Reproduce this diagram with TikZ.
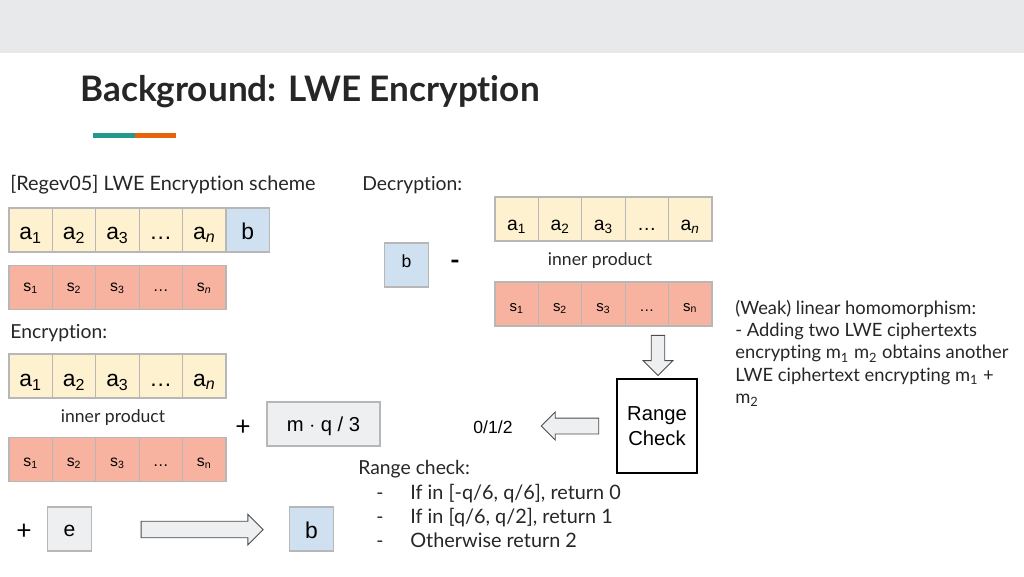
\documentclass[tikz,border=0pt]{standalone}
\usepackage{fontspec}
\setmainfont{Lato}[Ligatures=NoCommon]
\newfontfamily\arialfont{Liberation Sans}
\usetikzlibrary{shapes.arrows}
\definecolor{bandgray}{HTML}{E8E9EB}
\definecolor{cellborder}{HTML}{B7B7B7}
\definecolor{acolor}{HTML}{FDF1CF}
\definecolor{scolor}{HTML}{F8B3A0}
\definecolor{bcolor}{HTML}{CFE0F1}
\definecolor{ecolor}{HTML}{EEEFF0}
\definecolor{barteal}{HTML}{23998E}
\definecolor{barorange}{HTML}{E8620C}
\definecolor{textgray}{HTML}{262626}

\tikzset{
  cellbox/.style={draw=cellborder, line width=0.6pt, minimum width=0.868cm,
    minimum height=0.88cm, inner sep=0pt, text depth=0pt},
  acell/.style={cellbox, fill=acolor, text height=11pt, font=\arialfont\fontsize{13}{15}\selectfont},
  scell/.style={cellbox, fill=scolor, text height=8pt, font=\arialfont\fontsize{9}{11}\selectfont},
  bcell/.style={cellbox, fill=bcolor, text height=10.4pt, font=\arialfont\fontsize{13}{15}\selectfont},
  ecell/.style={cellbox, fill=ecolor, text height=8.4pt, font=\arialfont\fontsize{12}{14}\selectfont},
  small/.style={font=\arialfont\fontsize{11}{13}\selectfont},
  body/.style={font=\fontsize{11}{13}\selectfont, text=textgray},
  blockarrow/.style={single arrow, draw=black!70, fill=ecolor, line width=0.5pt,
    inner xsep=0pt, single arrow tip angle=90}
}

\begin{document}
\begin{tikzpicture}[x=0.02cm,y=-0.02cm]
\useasboundingbox (0,0) rectangle (1024,576);
\fill[bandgray] (0,0) rectangle (1024,53);

% title
\node[anchor=base west, inner sep=0pt, text=textgray, font=\fontsize{20}{24}\selectfont\bfseries] (title) at (80,101) {Background: LWE Encryption};
\fill[barteal] (93,133) rectangle (135,137.5);
\fill[barorange] (135,133) rectangle (176,137.5);

% scheme
\node[body, anchor=base west, inner sep=0pt, font=\fontsize{11.3}{13}\selectfont] (scheme) at (10,190) {[Regev05] LWE Encryption scheme};
\foreach \t [count=\i] in {a\textsubscript{1}, a\textsubscript{2}, a\textsubscript{3}, …, a\textsubscript{\textit{n}}}
  \node[acell] (ka\i) at ({30.7+43.4*(\i-1)},230) {\t};
\node[bcell] (kb) at (247.7,230) {b};
\foreach \t [count=\i] in {s\textsubscript{1}, s\textsubscript{2}, s\textsubscript{3}, …, s\textsubscript{\textit{n}}}
  \node[scell, text height=5pt] (ks\i) at ({30.7+43.4*(\i-1)},287.5) {\t};

% encryption
\node[body, anchor=base west, inner sep=0pt] (enc) at (10,338) {Encryption:};
\foreach \t [count=\i] in {a\textsubscript{1}, a\textsubscript{2}, a\textsubscript{3}, …, a\textsubscript{\textit{n}}}
  \node[acell, text height=12pt] (ea\i) at ({30.7+43.4*(\i-1)},376) {\t};
\node[body, font=\fontsize{10}{12}\selectfont] (einner) at (113,418) {inner product};
\foreach \t [count=\i] in {s\textsubscript{1}, s\textsubscript{2}, s\textsubscript{3}, …, s\textsubscript{n}}
  \node[scell] (es\i) at ({30.7+43.4*(\i-1)},459.5) {\t};
\node[font=\fontsize{15}{17}\selectfont] (plusm) at (243,428) {+};
\node[ecell, minimum width=2.26cm, font=\arialfont\fontsize{11.5}{14}\selectfont] (mq) at (323.5,424) {m $\cdot$ q / 3};
\node[font=\fontsize{15}{17}\selectfont] (pluse) at (24,532) {+};
\node[ecell] (e) at (69.5,529) {e};
\node[bcell] (eb) at (311.5,529) {b};
\node[blockarrow, minimum height=2.44cm, inner ysep=0.157cm, single arrow head extend=0.14cm] (encarrow) at (198,529.5) {};

% decryption
\node[body, anchor=base west, inner sep=0pt] (dec) at (362,190) {Decryption:};
\foreach \t [count=\i] in {a\textsubscript{1}, a\textsubscript{2}, a\textsubscript{3}, …, a\textsubscript{\textit{n}}}
  \node[acell, text height=13.5pt, font=\arialfont\fontsize{11}{13}\selectfont] (da\i) at ({516.7+43.4*(\i-1)},219) {\t};
\node[body, font=\fontsize{10}{12}\selectfont] (dinner) at (600,261) {inner product};
\foreach \t [count=\i] in {s\textsubscript{1}, s\textsubscript{2}, s\textsubscript{3}, …, s\textsubscript{n}}
  \node[scell, font=\arialfont\fontsize{8.5}{10}\selectfont] (ds\i) at ({516.7+43.4*(\i-1)},304) {\t};
\node[bcell, text height=3pt, font=\arialfont\fontsize{10}{12}\selectfont] (db) at (406.5,265) {b};
\node[font=\fontsize{15}{17}\selectfont\bfseries] (minus) at (455,265) {-};
\node[blockarrow, rotate=-90, minimum height=0.8cm, inner ysep=0.127cm, single arrow head extend=0.16cm] (downarrow) at (658,352) {};
\node[draw, line width=0.6pt, minimum width=1.6cm, minimum height=1.88cm, align=center, font=\arialfont\fontsize{11.5}{14}\selectfont] (range) at (657,426) {Range\\Check};
\node[blockarrow, rotate=180, minimum height=1.15cm, inner ysep=0.15cm, single arrow head extend=0.12cm] (leftarrow) at (574,426) {};
\node[small, font=\arialfont\fontsize{10}{12}\selectfont] (out) at (493,427) {0/1/2};

% range check rules
\node[body, anchor=base west, inner sep=0pt] (rc) at (358,474) {Range check:};
\foreach \t [count=\i] in {{If in [-q/6, q/6], return 0}, {If in [q/6, q/2], return 1}, {Otherwise return 2}} {
  \node[body, anchor=base west, inner sep=0pt] (dash\i) at (376,{475+24*\i}) {-};
  \node[body, anchor=base west, inner sep=0pt, font=\fontsize{11.3}{13}\selectfont] (rule\i) at (410,{475+24*\i}) {\t};
}

% homomorphism note
\node[body, anchor=north west, inner sep=0pt, align=left, font=\fontsize{10.45}{12.6}\selectfont] (note) at (735,300)
  {(Weak) linear homomorphism:\\
   - Adding two LWE ciphertexts\\
   encrypting m\textsubscript{1} m\textsubscript{2} obtains another\\
   LWE ciphertext encrypting m\textsubscript{1} +\\
   m\textsubscript{2}};
\end{tikzpicture}
\end{document}
